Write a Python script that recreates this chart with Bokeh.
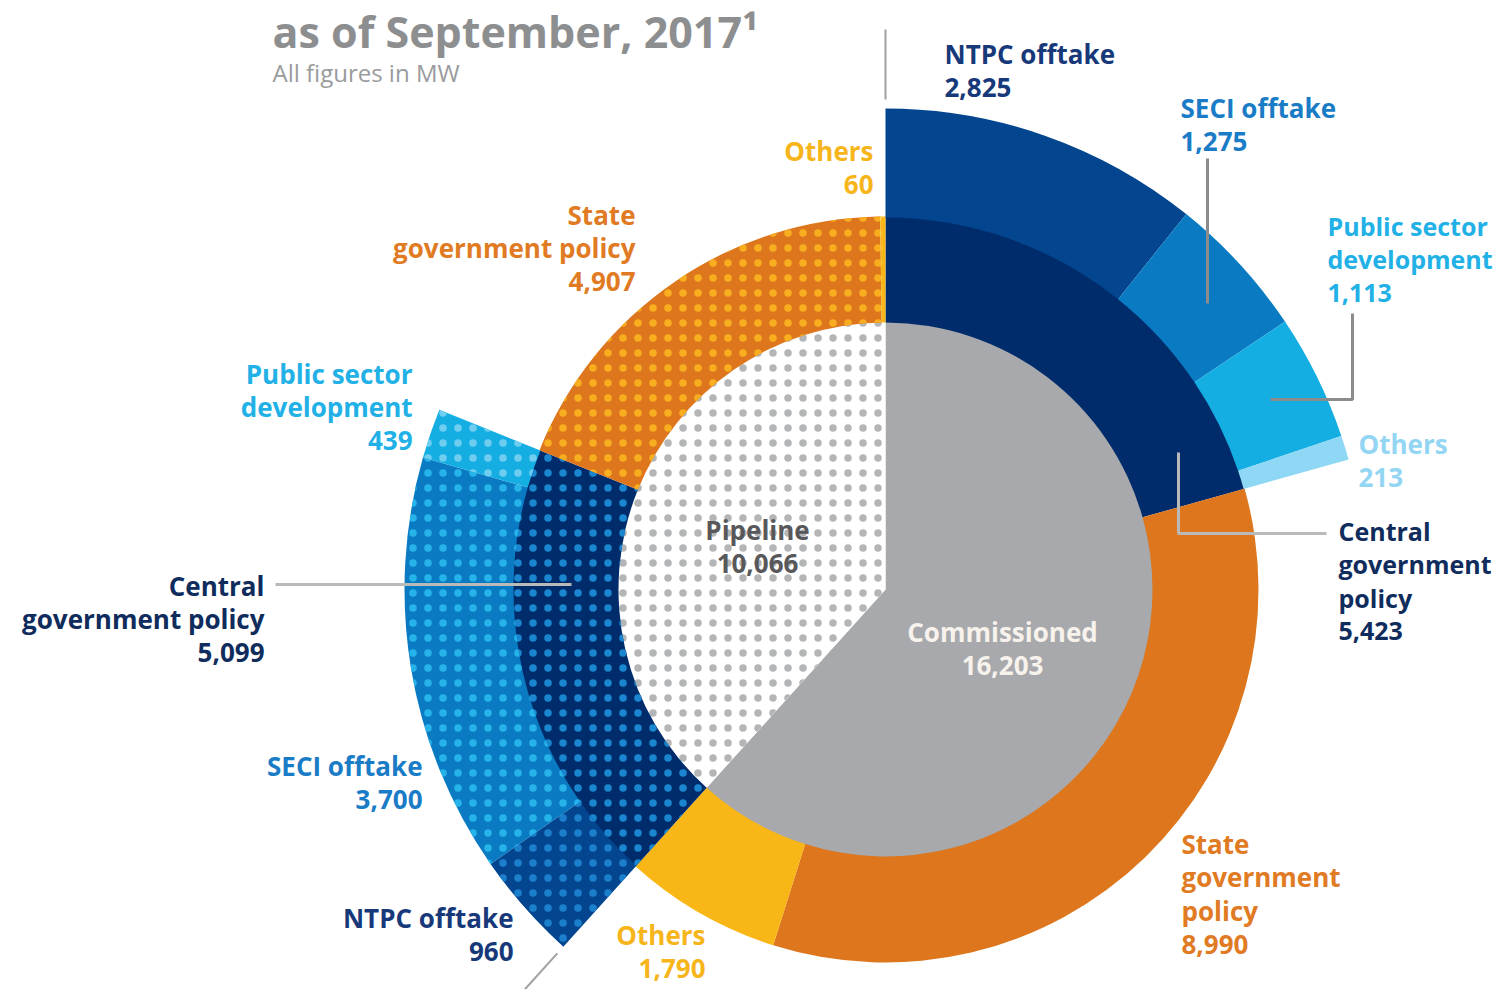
import numpy as np
from bokeh.plotting import figure
from bokeh.models import Range1d
from bokeh.core.properties import value
from bokeh.embed import file_html
from bokeh.resources import INLINE

# ---------------- data ----------------
status = ["Commissioned", "Pipeline"]
status_mw = [16203, 10066]
policy = ["Central government policy", "State government policy", "Others"]
commissioned_policy_mw = [5423, 8990, 1790]
pipeline_policy_mw = [5099, 4907, 60]
central_comm_channels = ["NTPC offtake", "SECI offtake", "Public sector development", "Others"]
central_comm_mw = [2825, 1275, 1113, 213]
central_pipe_channels = ["NTPC offtake", "SECI offtake", "Public sector development"]
central_pipe_mw = [960, 3700, 439]

# ---------------- layout ----------------
W, H = 1498, 989
CX, CY = 885, 589          # centre in picture pixels
R1, R2, R3 = 268, 373, 481
FONT = value("Open Sans")

def X(px):
    return px - CX

def Y(py):
    return CY - py

p = figure(width=W, height=H, output_backend="svg", toolbar_location=None,
           x_range=Range1d(-CX, W - CX), y_range=Range1d(CY - H, CY),
           min_border=0)
p.axis.visible = False
p.grid.visible = False
p.outline_line_color = None
p.background_fill_color = "white"
p.border_fill_color = "white"

total = float(sum(status_mw))
to_rad = 2 * np.pi / total

# status spans (clockwise from 12 o'clock)
spans = {}
a = np.pi / 2
for s, v in zip(status, status_mw):
    spans[s] = (a, a - v * to_rad)
    a -= v * to_rad

def split(span, vals):
    a0, a1 = span
    tot = float(sum(vals))
    out = []
    cur = a0
    for v in vals:
        nxt = cur - (a0 - a1) * v / tot
        out.append((cur, nxt))
        cur = nxt
    return out

HS, HW = 15, 2

# inner pie
p.wedge(x=0, y=0, radius=R1, start_angle=spans["Commissioned"][0], end_angle=spans["Commissioned"][1],
        direction="clock", fill_color="#a7a9ac", line_color=None)
p.wedge(x=0, y=0, radius=R1, start_angle=spans["Pipeline"][0], end_angle=spans["Pipeline"][1],
        direction="clock", fill_color="white", line_color=None,
        hatch_pattern="dot", hatch_color="#b4b5b7", hatch_scale=HS, hatch_weight=HW)

# middle ring
mid_colors = ["#002c6b", "#dd761c", "#f9b617"]
mid_dots = ["#1a86cf", "#f8ae1e", "#fbd15a"]
comm_mid = split(spans["Commissioned"], commissioned_policy_mw)
pipe_mid = split(spans["Pipeline"], pipeline_policy_mw)
for (a0, a1), c in zip(comm_mid, mid_colors):
    p.annular_wedge(x=0, y=0, inner_radius=R1 - 1, outer_radius=R2, start_angle=a0, end_angle=a1,
                    direction="clock", fill_color=c, line_color=None)
for (a0, a1), c, d in zip(pipe_mid, mid_colors, mid_dots):
    p.annular_wedge(x=0, y=0, inner_radius=R1 - 1, outer_radius=R2, start_angle=a0, end_angle=a1,
                    direction="clock", fill_color=c, line_color=None,
                    hatch_pattern="dot", hatch_color=d, hatch_scale=HS, hatch_weight=HW)

# outer ring (central government policy breakdown)
out_colors = ["#03468f", "#0a7bc2", "#14aee3", "#8fd8f5"]
out_dots = ["#1b7fcc", "#25b3ea", "#6fcdf0", "#b8e6f8"]
for (a0, a1), c in zip(split(comm_mid[0], central_comm_mw), out_colors):
    p.annular_wedge(x=0, y=0, inner_radius=R2 - 1, outer_radius=R3, start_angle=a0, end_angle=a1,
                    direction="clock", fill_color=c, line_color=None)
for (a0, a1), c, d in zip(split(pipe_mid[0], central_pipe_mw), out_colors, out_dots):
    p.annular_wedge(x=0, y=0, inner_radius=R2 - 1, outer_radius=R3, start_angle=a0, end_angle=a1,
                    direction="clock", fill_color=c, line_color=None,
                    hatch_pattern="dot", hatch_color=d, hatch_scale=HS, hatch_weight=HW)

# separator lines continuing the commissioned / pipeline boundaries
for ang in [spans["Commissioned"][0], spans["Commissioned"][1]]:
    p.line(x=[490 * np.cos(ang), 560 * np.cos(ang)], y=[490 * np.sin(ang), 560 * np.sin(ang)],
           line_color="#a0a0a0", line_width=2)

# leader lines
LEAD = "#8c8c8c"
LEAD2 = "#b9b9b9"
p.line(x=[X(1207), X(1207)], y=[Y(158), Y(303)], line_color=LEAD, line_width=3)
p.line(x=[X(1352), X(1352), X(1270)], y=[Y(313), Y(399), Y(399)], line_color=LEAD, line_width=3)
p.line(x=[X(1178), X(1178), X(1326)], y=[Y(452), Y(533), Y(533)], line_color=LEAD2, line_width=3)
p.line(x=[X(275), X(571)], y=[Y(584), Y(584)], line_color=LEAD2, line_width=3)

# labels
def label(lines, px, first_py, align, color, size="26px", lh=33.5, style="bold"):
    for i, t in enumerate(lines):
        p.text(x=[X(px)], y=[Y(first_py + i * lh)], text=[t], text_align=align,
               text_baseline="middle", text_color=color, text_font=FONT,
               text_font_size=size, text_font_style=style)

fmt = lambda v: f"{v:,}"
NAVY = "#17397a"
DNAVY = "#0f2c5c"
SECI = "#1a7cc6"
PUB = "#22b1e6"
LOTH = "#93d6f3"
ORG = "#e07b24"
YEL = "#f7b51c"

label([central_comm_channels[0], fmt(central_comm_mw[0])], 944, 53, "left", NAVY)
label([central_comm_channels[1], fmt(central_comm_mw[1])], 1180, 107, "left", SECI)
label(["Public sector", "development", fmt(central_comm_mw[2])], 1327, 225, "left", PUB, size="25px")
label([central_comm_channels[3], fmt(central_comm_mw[3])], 1358, 443, "left", LOTH)
label(["Central", "government", "policy", fmt(commissioned_policy_mw[0])], 1338, 530, "left", DNAVY, size="25px")
label(["State", "government", "policy", fmt(commissioned_policy_mw[1])], 1181, 843, "left", ORG)
label([policy[2], fmt(commissioned_policy_mw[2])], 705, 934, "right", YEL)
label([central_pipe_channels[0], fmt(central_pipe_mw[0])], 513, 917, "right", NAVY)
label([central_pipe_channels[1], fmt(central_pipe_mw[1])], 422, 765, "right", SECI)
label(["Central", "government policy", fmt(pipeline_policy_mw[0])], 264, 585, "right", DNAVY)
label(["Public sector", "development", fmt(central_pipe_mw[2])], 412, 373, "right", PUB)
label(["State", "government policy", fmt(pipeline_policy_mw[1])], 635, 214, "right", ORG)
label([policy[2], fmt(pipeline_policy_mw[2])], 873, 150, "right", YEL)
label([status[1], fmt(status_mw[1])], 757, 529, "center", "#58585a")
label([status[0], fmt(status_mw[0])], 1002, 631, "center", "#f7f3ec")

# title
label(["as of September, 2017\u00b9"], 272, 31, "left", "#8d8e90", size="43px")
label(["All figures in MW"], 272, 72, "left", "#9a9b9d", size="24px", style="normal")

open("out.html", "w").write(file_html(p, INLINE))
